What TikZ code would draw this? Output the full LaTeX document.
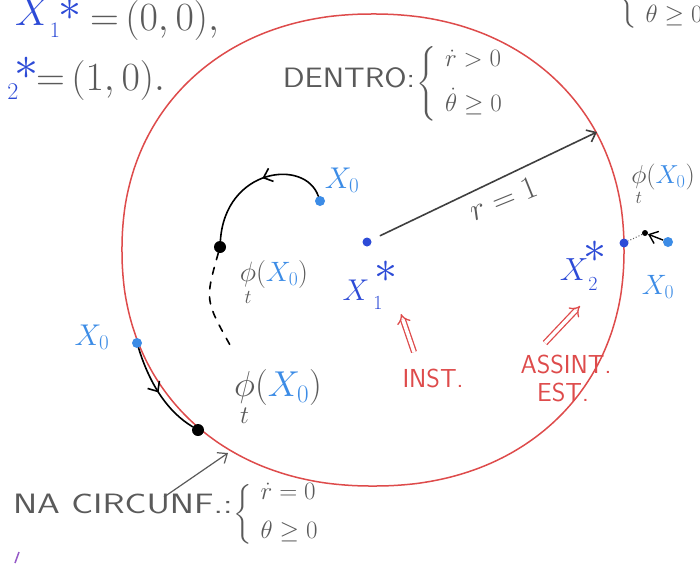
\RequirePackage{fix-cm}
\documentclass[tikz,border=0pt]{standalone}
\usepackage{amsmath}
\usepackage{graphicx}
\usetikzlibrary{arrows.meta,decorations.markings}
\definecolor{inkc}{RGB}{90,90,90}
\definecolor{xblue}{RGB}{45,75,215}
\definecolor{lblue}{RGB}{60,140,230}
\definecolor{redc}{RGB}{222,75,75}
\definecolor{purp}{RGB}{150,90,200}
\newcommand{\fs}[1]{\fontsize{#1}{#1}\selectfont}
\newcommand{\condbox}[2]{$\left\{\begin{array}{@{\hspace{9pt}}l@{}}#1\\[14pt] #2\end{array}\right.$}
\tikzset{
  lbl/.style={inner sep=0pt, outer sep=0pt},
  inkt/.style={lbl, text=inkc},
  blt/.style={lbl, text=xblue},
  lbt/.style={lbl, text=lblue},
  rdt/.style={lbl, text=redc, font=\sffamily\fs{26}},
  capt/.style={lbl, text=inkc, font=\sffamily\fs{28}},
  dotb/.style={circle, fill=xblue, inner sep=0pt, minimum size=9pt},
  dotl/.style={circle, fill=lblue, inner sep=0pt, minimum size=10pt},
  dotk/.style={circle, fill=black, inner sep=0pt, minimum size=12pt},
  barb/.style={-{Straight Barb[length=8pt,width=13pt]}},
  midbarb/.style={postaction={decorate}, decoration={markings, mark=at position #1 with {\arrow{Straight Barb[length=8pt,width=14pt]}}}},
  hand/.style={line width=1.6pt, line cap=round},
  dbl/.style={draw=redc, double=white, double distance=3.5pt, line width=1.3pt, -{Implies[length=6pt]}},
}
\begin{document}
\begin{tikzpicture}[x=1pt,y=-1pt]
\useasboundingbox (0,0) rectangle (700,563);
\fill[white] (0,0) rectangle (700,563);

% ---- top-left equations
\node[blt, font=\fs{40}] (x1X) at (33,12) {$X$};
\node[blt, font=\fs{22}] (x1sub) at (55,30) {$1$};
\node[blt, font=\fs{46}] (x1star) at (70,10) {$\ast$};
\node[inkt, font=\fs{40}, anchor=base west] (eq1) at (90,30) {${=}\,(0,0),$};
\node[blt, font=\fs{40}] (x2X) at (-16,72) {$X$};
\node[blt, font=\fs{24}] (x2sub) at (13,92) {$2$};
\node[blt, font=\fs{48}] (x2star) at (26,68) {$\ast$};
\node[inkt, font=\fs{40}, anchor=base west] (eq2) at (36,90) {${=}\,(1,0).$};

% ---- top-right partial condition
\node[inkt, font=\fs{25}, anchor=west] (trc) at (618,-2) {\condbox{\dot r>0}{\theta\geq 0}};

% ---- circle (hand drawn, slightly squarish)
\draw[redc, line width=1.5pt] plot[domain=0.5:360.5, samples=121, smooth]
  ({373+251*sign(cos(\x))*pow(abs(cos(\x)),0.93)}, {250+236*sign(sin(\x))*pow(abs(sin(\x)),0.93)}) -- cycle;

% ---- DENTRO
\node[capt, anchor=east] (dentro) at (415,78) {\scalebox{1.15}[1]{DENTRO:}};
\node[inkt, font=\fs{25}, anchor=west] (dcond) at (416,84) {\condbox{\dot r>0}{\dot\theta\geq 0}};

% ---- centre and radius
\node[dotb] (ctr) at (367,242) {};
\coordinate (rend) at (597,132);
\draw[hand, inkc!70!black, barb, shorten <=10pt] (ctr) -- (rend);
\node[inkt, font=\fs{32}, rotate=22] (rlab) at (503,199) {$r=1$};

% ---- X1*
\node[blt, font=\fs{30}] (x1c) at (356,290) {$X$};
\node[blt, font=\fs{46}] (s1c) at (386,272) {$\ast$};
\node[blt, font=\fs{20}] (x1cs) at (378,303) {$1$};

% ---- X2*
\node[blt, font=\fs{32}] (x2c) at (574,270) {$X$};
\node[blt, font=\fs{46}] (s2c) at (595,252) {$\ast$};
\node[blt, font=\fs{20}] (x2cs) at (593,284) {$2$};

% ---- INST. / ASSINT. EST.
\coordinate (ia) at (414,352);
\coordinate (ib) at (401,314);
\draw[dbl] (ia) -- (ib);
\node[rdt] (inst) at (433,378) {INST.};
\coordinate (aa) at (545,343);
\coordinate (ab) at (580,306);
\draw[dbl] (aa) -- (ab);
\node[rdt] (assint) at (566,364) {ASSINT.};
\node[rdt] (est) at (563,392) {EST.};

% ---- orbit inside (top)
\node[dotl] (x0a) at (320,201) {};
\node[lbt, font=\fs{30}] (x0alab) at (342,180) {$X_{0}$};
\node[dotk] (k1) at (220,247) {};
\draw[hand, black, midbarb=0.45] (x0a) .. controls (305,158) and (225,168) .. (k1);
\draw[hand, black, dash pattern=on 7pt off 8pt] (k1) .. controls (205,300) .. (230,345);
\node[inkt, font=\fs{28}] (phi1) at (274,283) {$\underset{t}{\phi}(\textcolor{lblue}{X_{0}})$};

% ---- orbit on circle (left)
\node[dotl] (x0b) at (137,343) {};
\node[lbt, font=\fs{30}] (x0blab) at (92,337) {$X_{0}$};
\node[dotk] (k2) at (198,430) {};
\draw[hand, black, midbarb=0.5] (x0b) .. controls (150,385) and (168,412) .. (k2);
\node[inkt, font=\fs{36}] (phi2) at (278,398) {$\underset{t}{\phi}(\textcolor{lblue}{X_{0}})$};

% ---- outside (right)
\node[dotb] (cb) at (624,243) {};
\node[dotl] (x0c) at (668,242) {};
\node[circle, fill=black, inner sep=0pt, minimum size=6pt] (k3) at (645,233) {};
\draw[line width=1.4pt, black, barb] (x0c) -- (k3);
\draw[inkc, line width=1pt, dotted] (k3) -- (cb);
\node[inkt, font=\fs{26}] (phi3) at (663,185) {$\underset{t}{\phi}(\textcolor{lblue}{X_{0}})$};
\node[lbt, font=\fs{28}] (x0clab) at (658,287) {$X_{0}$};

% ---- NA CIRCUNF.
\node[capt, anchor=west] (na) at (13,504) {\scalebox{1.3}[1]{NA CIRCUNF.:}};
\node[inkt, font=\fs{25}, anchor=west] (ncond) at (233,514) {\condbox{\dot r=0}{\theta\geq 0}};
\coordinate (nastart) at (164,497);
\coordinate (naend) at (228,453);
\draw[inkc, line width=1.2pt, barb] (nastart) -- (naend);

% ---- stray pen mark
\coordinate (pm1) at (15,563);
\coordinate (pm2) at (19,552);
\draw[purp, line width=1.5pt] (pm1) -- (pm2);
\end{tikzpicture}
\end{document}
